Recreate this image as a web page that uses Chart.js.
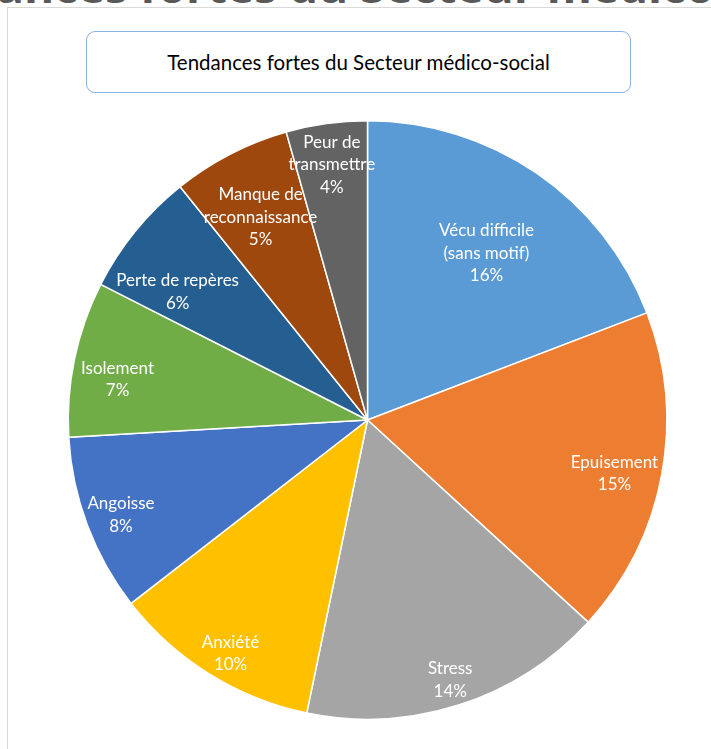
<!DOCTYPE html>
<html>
<head>
<meta charset="utf-8">
<script src="https://cdn.jsdelivr.net/npm/chart.js@4.4.0/dist/chart.umd.min.js"></script>
<style>
  html, body { margin:0; padding:0; background:#fff; overflow:hidden; }
  #wrap { position:relative; width:711px; height:749px; }
  #bigTitle { position:absolute; left:-117px; top:-46px; white-space:nowrap;
    font-family:"Open Sans", sans-serif; font-weight:bold; font-size:46px; color:#595959; }
  #frame { position:absolute; left:7px; top:7px; width:760px; height:800px;
    border-left:1.5px solid #d9d9d9; border-top:1.5px solid #d9d9d9; }
  #titleBox { position:absolute; left:86px; top:31px; width:545px; height:62px;
    border:1.3px solid #8db3e2; border-radius:9px; box-sizing:border-box;
    font-family:Lato, sans-serif; font-size:20.5px; color:#000;
    display:flex; align-items:center; justify-content:center; }
  #c { position:absolute; left:0; top:0; }
</style>
</head>
<body>
<div id="wrap">
  <div id="bigTitle">Tendances fortes du Secteur médico-social</div>
  <div id="frame"></div>
  <div id="titleBox">Tendances fortes du Secteur médico-social</div>
  <canvas id="c" width="711" height="749"></canvas>
</div>
<script>
// Categories (each entry = the lines of its label)
const categories = [
  ['Vécu difficile', '(sans motif)'],
  ['Epuisement'],
  ['Stress'],
  ['Anxiété'],
  ['Angoisse'],
  ['Isolement'],
  ['Perte de repères'],
  ['Manque de', 'reconnaissance'],
  ['Peur de', 'transmettre']
];
// Values in % (labels show them rounded)
const percents = [16.2, 14.9, 13.9, 9.5, 8.1, 7.1, 5.7, 5.4, 3.7];
const sliceColors = ['#5b9bd5', '#ed7d31', '#a5a5a5', '#ffc000', '#4472c4',
                     '#70ad47', '#255e91', '#9e480e', '#636363'];
// label placement: fraction of radius along the mid angle + small nudge (px)
const labelRadius = [0.69, 0.84, 0.90, 0.89, 0.88, 0.85, 0.77, 0.78, 0.87];
const labelNudge = [[2, 1], [0, 4], [0, 1], [4, 5], [0, 0], [-1, 9], [-11, 15], [0, 2], [0, 0]];

// Slice labels
const sliceLabels = {
  id: 'sliceLabels',
  afterDatasetsDraw(chart) {
    const ctx = chart.ctx;
    const meta = chart.getDatasetMeta(0);
    ctx.save();
    ctx.font = '17px Lato';
    ctx.fillStyle = '#fff';
    ctx.textAlign = 'center';
    ctx.textBaseline = 'middle';
    meta.data.forEach((arc, i) => {
      const p = arc.getProps(['x', 'y', 'startAngle', 'endAngle', 'outerRadius']);
      const mid = (p.startAngle + p.endAngle) / 2;
      const r = p.outerRadius * labelRadius[i];
      const cx = p.x + Math.cos(mid) * r + labelNudge[i][0];
      const cy = p.y + Math.sin(mid) * r + labelNudge[i][1] + 2.5;
      const lines = categories[i].concat([Math.round(percents[i]) + '%']);
      const lh = 22.5;
      lines.forEach((t, k) => {
        ctx.fillText(t, cx, cy + (k - (lines.length - 1) / 2) * lh);
      });
    });
    ctx.restore();
  }
};

new Chart(document.getElementById('c'), {
  type: 'pie',
  data: {
    labels: categories,
    datasets: [{
      data: percents,
      backgroundColor: sliceColors,
      borderColor: '#fff',
      borderWidth: 1.5
    }]
  },
  options: {
    responsive: false,
    animation: false,
    layout: { padding: { left: 67, right: 43, top: 120, bottom: 29 } },
    plugins: {
      legend: { display: false },
      tooltip: { enabled: false },
      title: { display: false }
    }
  },
  plugins: [sliceLabels]
});
</script>
</body>
</html>
